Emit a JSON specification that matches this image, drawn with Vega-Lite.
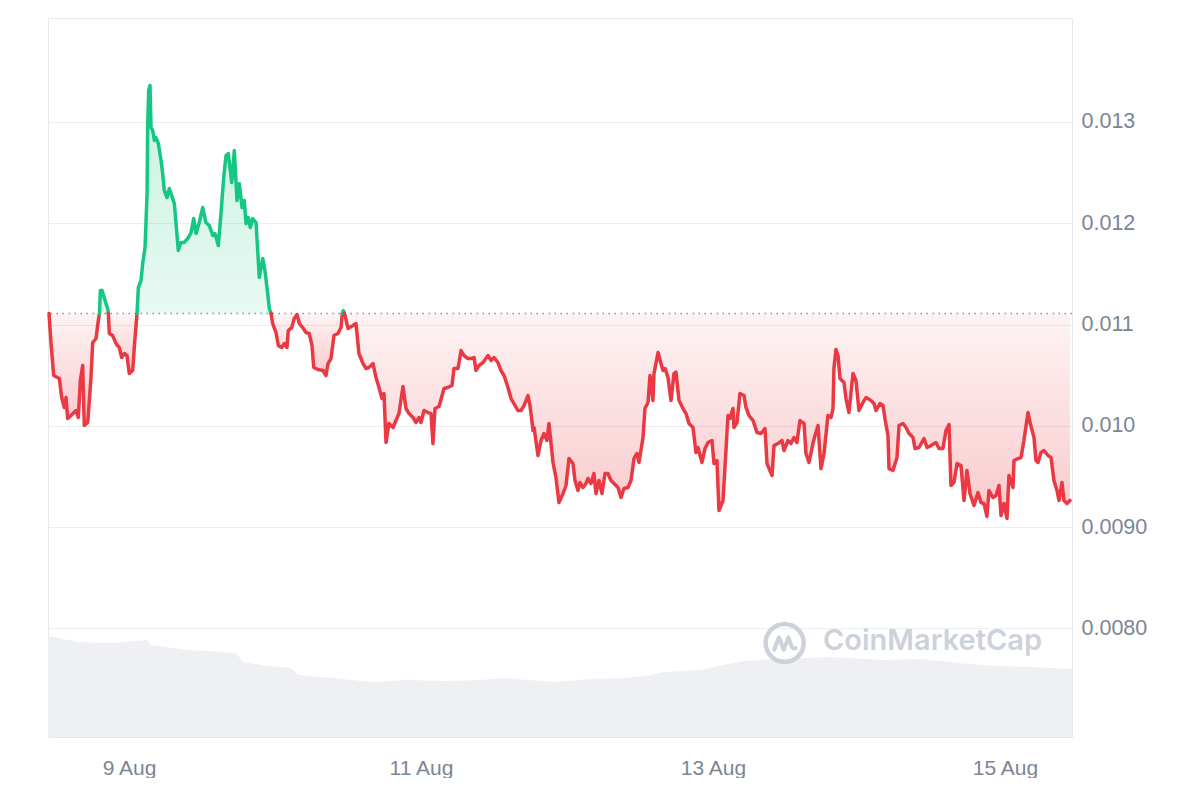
{
  "$schema": "https://vega.github.io/schema/vega-lite/v6.json",
  "width": 1024,
  "height": 719,
  "padding": {"left": 47, "top": 18, "right": 0, "bottom": 0},
  "background": "white",
  "config": {
    "view": {"stroke": "#e6e8eb", "strokeWidth": 1},
    "font": "Liberation Sans"
  },
  "datasets": {
    "volume": [
      {"t": "2024-08-08T10:41", "v": 101},
      {"t": "2024-08-08T15:37", "v": 95},
      {"t": "2024-08-08T21:32", "v": 94},
      {"t": "2024-08-09T02:58", "v": 97},
      {"t": "2024-08-09T03:37", "v": 92},
      {"t": "2024-08-09T09:42", "v": 87},
      {"t": "2024-08-09T15:37", "v": 85},
      {"t": "2024-08-09T17:35", "v": 84},
      {"t": "2024-08-09T18:44", "v": 75},
      {"t": "2024-08-09T21:42", "v": 72},
      {"t": "2024-08-10T02:38", "v": 69},
      {"t": "2024-08-10T03:47", "v": 62},
      {"t": "2024-08-10T09:42", "v": 59},
      {"t": "2024-08-10T15:47", "v": 55},
      {"t": "2024-08-10T21:52", "v": 57},
      {"t": "2024-08-11T03:57", "v": 56},
      {"t": "2024-08-11T09:52", "v": 57},
      {"t": "2024-08-11T13:29", "v": 59},
      {"t": "2024-08-11T22:02", "v": 55},
      {"t": "2024-08-12T03:57", "v": 58},
      {"t": "2024-08-12T10:02", "v": 59},
      {"t": "2024-08-12T13:39", "v": 62},
      {"t": "2024-08-12T16:07", "v": 65},
      {"t": "2024-08-12T22:02", "v": 67},
      {"t": "2024-08-13T01:39", "v": 72},
      {"t": "2024-08-13T05:16", "v": 76},
      {"t": "2024-08-13T10:11", "v": 78},
      {"t": "2024-08-13T16:07", "v": 79},
      {"t": "2024-08-13T18:35", "v": 80},
      {"t": "2024-08-13T22:12", "v": 79},
      {"t": "2024-08-14T04:16", "v": 77},
      {"t": "2024-08-14T10:21", "v": 78},
      {"t": "2024-08-14T16:17", "v": 74},
      {"t": "2024-08-14T22:21", "v": 71},
      {"t": "2024-08-15T04:26", "v": 70},
      {"t": "2024-08-15T10:41", "v": 68},
      {"t": "2024-08-15T11:01", "v": 68}
    ],
    "wm": [{"t": "2024-08-13T18:05", "p": 0.007787, "label": "CoinMarketCap"}],
    "logo": [{"t": "2024-08-13T11:47", "p": 0.007856}],
    "base": [{"p": 0.01111}],
    "price": [
      {"t": "2024-08-08T10:51", "p": 0.01111, "s": 1, "d": "down"},
      {"t": "2024-08-08T11:11", "p": 0.010812, "s": 1, "d": "down"},
      {"t": "2024-08-08T11:37", "p": 0.010497, "s": 1, "d": "down"},
      {"t": "2024-08-08T12:33", "p": 0.010467, "s": 1, "d": "down"},
      {"t": "2024-08-08T12:56", "p": 0.010279, "s": 1, "d": "down"},
      {"t": "2024-08-08T13:22", "p": 0.010181, "s": 1, "d": "down"},
      {"t": "2024-08-08T13:39", "p": 0.010279, "s": 1, "d": "down"},
      {"t": "2024-08-08T13:55", "p": 0.010072, "s": 1, "d": "down"},
      {"t": "2024-08-08T14:28", "p": 0.010102, "s": 1, "d": "down"},
      {"t": "2024-08-08T15:17", "p": 0.010151, "s": 1, "d": "down"},
      {"t": "2024-08-08T15:40", "p": 0.010082, "s": 1, "d": "down"},
      {"t": "2024-08-08T16:00", "p": 0.010447, "s": 1, "d": "down"},
      {"t": "2024-08-08T16:23", "p": 0.010595, "s": 1, "d": "down"},
      {"t": "2024-08-08T16:39", "p": 0.010003, "s": 1, "d": "down"},
      {"t": "2024-08-08T17:13", "p": 0.010033, "s": 1, "d": "down"},
      {"t": "2024-08-08T17:45", "p": 0.010477, "s": 1, "d": "down"},
      {"t": "2024-08-08T18:02", "p": 0.010822, "s": 1, "d": "down"},
      {"t": "2024-08-08T18:35", "p": 0.010862, "s": 1, "d": "down"},
      {"t": "2024-08-08T18:57", "p": 0.011039, "s": 1, "d": "down"},
      {"t": "2024-08-08T19:09", "p": 0.01111, "s": 1, "d": "down"},
      {"t": "2024-08-08T19:09", "p": 0.01111, "s": 2, "d": "up"},
      {"t": "2024-08-08T19:17", "p": 0.011336, "s": 2, "d": "up"},
      {"t": "2024-08-08T19:34", "p": 0.011336, "s": 2, "d": "up"},
      {"t": "2024-08-08T20:13", "p": 0.011207, "s": 2, "d": "up"},
      {"t": "2024-08-08T20:30", "p": 0.011158, "s": 2, "d": "up"},
      {"t": "2024-08-08T20:36", "p": 0.01111, "s": 2, "d": "up"},
      {"t": "2024-08-08T20:36", "p": 0.01111, "s": 3, "d": "down"},
      {"t": "2024-08-08T20:46", "p": 0.010911, "s": 3, "d": "down"},
      {"t": "2024-08-08T21:19", "p": 0.010891, "s": 3, "d": "down"},
      {"t": "2024-08-08T21:52", "p": 0.010812, "s": 3, "d": "down"},
      {"t": "2024-08-08T22:24", "p": 0.010773, "s": 3, "d": "down"},
      {"t": "2024-08-08T22:48", "p": 0.010674, "s": 3, "d": "down"},
      {"t": "2024-08-08T23:14", "p": 0.010714, "s": 3, "d": "down"},
      {"t": "2024-08-08T23:40", "p": 0.010694, "s": 3, "d": "down"},
      {"t": "2024-08-09T00:03", "p": 0.010516, "s": 3, "d": "down"},
      {"t": "2024-08-09T00:36", "p": 0.010546, "s": 3, "d": "down"},
      {"t": "2024-08-09T00:52", "p": 0.010773, "s": 3, "d": "down"},
      {"t": "2024-08-09T01:19", "p": 0.01111, "s": 3, "d": "down"},
      {"t": "2024-08-09T01:19", "p": 0.01111, "s": 4, "d": "up"},
      {"t": "2024-08-09T01:32", "p": 0.011365, "s": 4, "d": "up"},
      {"t": "2024-08-09T01:58", "p": 0.011434, "s": 4, "d": "up"},
      {"t": "2024-08-09T02:15", "p": 0.011602, "s": 4, "d": "up"},
      {"t": "2024-08-09T02:38", "p": 0.01176, "s": 4, "d": "up"},
      {"t": "2024-08-09T02:58", "p": 0.012293, "s": 4, "d": "up"},
      {"t": "2024-08-09T03:04", "p": 0.012945, "s": 4, "d": "up"},
      {"t": "2024-08-09T03:14", "p": 0.01331, "s": 4, "d": "up"},
      {"t": "2024-08-09T03:27", "p": 0.013359, "s": 4, "d": "up"},
      {"t": "2024-08-09T03:37", "p": 0.012945, "s": 4, "d": "up"},
      {"t": "2024-08-09T03:54", "p": 0.012915, "s": 4, "d": "up"},
      {"t": "2024-08-09T04:10", "p": 0.012816, "s": 4, "d": "up"},
      {"t": "2024-08-09T04:26", "p": 0.012846, "s": 4, "d": "up"},
      {"t": "2024-08-09T04:49", "p": 0.012787, "s": 4, "d": "up"},
      {"t": "2024-08-09T05:16", "p": 0.012619, "s": 4, "d": "up"},
      {"t": "2024-08-09T05:32", "p": 0.012491, "s": 4, "d": "up"},
      {"t": "2024-08-09T05:48", "p": 0.012323, "s": 4, "d": "up"},
      {"t": "2024-08-09T06:15", "p": 0.012254, "s": 4, "d": "up"},
      {"t": "2024-08-09T06:37", "p": 0.012343, "s": 4, "d": "up"},
      {"t": "2024-08-09T07:01", "p": 0.012273, "s": 4, "d": "up"},
      {"t": "2024-08-09T07:27", "p": 0.012195, "s": 4, "d": "up"},
      {"t": "2024-08-09T07:44", "p": 0.011997, "s": 4, "d": "up"},
      {"t": "2024-08-09T08:06", "p": 0.011731, "s": 4, "d": "up"},
      {"t": "2024-08-09T08:33", "p": 0.01181, "s": 4, "d": "up"},
      {"t": "2024-08-09T09:05", "p": 0.01181, "s": 4, "d": "up"},
      {"t": "2024-08-09T09:39", "p": 0.011849, "s": 4, "d": "up"},
      {"t": "2024-08-09T10:12", "p": 0.011908, "s": 4, "d": "up"},
      {"t": "2024-08-09T10:38", "p": 0.012046, "s": 4, "d": "up"},
      {"t": "2024-08-09T11:01", "p": 0.011898, "s": 4, "d": "up"},
      {"t": "2024-08-09T11:33", "p": 0.012007, "s": 4, "d": "up"},
      {"t": "2024-08-09T12:07", "p": 0.012155, "s": 4, "d": "up"},
      {"t": "2024-08-09T12:39", "p": 0.012007, "s": 4, "d": "up"},
      {"t": "2024-08-09T13:12", "p": 0.011977, "s": 4, "d": "up"},
      {"t": "2024-08-09T13:46", "p": 0.011879, "s": 4, "d": "up"},
      {"t": "2024-08-09T14:08", "p": 0.011898, "s": 4, "d": "up"},
      {"t": "2024-08-09T14:41", "p": 0.01178, "s": 4, "d": "up"},
      {"t": "2024-08-09T15:07", "p": 0.012096, "s": 4, "d": "up"},
      {"t": "2024-08-09T15:34", "p": 0.012451, "s": 4, "d": "up"},
      {"t": "2024-08-09T15:57", "p": 0.012668, "s": 4, "d": "up"},
      {"t": "2024-08-09T16:19", "p": 0.012688, "s": 4, "d": "up"},
      {"t": "2024-08-09T16:53", "p": 0.012402, "s": 4, "d": "up"},
      {"t": "2024-08-09T17:19", "p": 0.012718, "s": 4, "d": "up"},
      {"t": "2024-08-09T17:45", "p": 0.012224, "s": 4, "d": "up"},
      {"t": "2024-08-09T18:08", "p": 0.012392, "s": 4, "d": "up"},
      {"t": "2024-08-09T18:35", "p": 0.012155, "s": 4, "d": "up"},
      {"t": "2024-08-09T18:57", "p": 0.012224, "s": 4, "d": "up"},
      {"t": "2024-08-09T19:14", "p": 0.011997, "s": 4, "d": "up"},
      {"t": "2024-08-09T19:37", "p": 0.012056, "s": 4, "d": "up"},
      {"t": "2024-08-09T19:56", "p": 0.011958, "s": 4, "d": "up"},
      {"t": "2024-08-09T20:20", "p": 0.012046, "s": 4, "d": "up"},
      {"t": "2024-08-09T20:53", "p": 0.012007, "s": 4, "d": "up"},
      {"t": "2024-08-09T21:25", "p": 0.011464, "s": 4, "d": "up"},
      {"t": "2024-08-09T21:59", "p": 0.011652, "s": 4, "d": "up"},
      {"t": "2024-08-09T22:21", "p": 0.011533, "s": 4, "d": "up"},
      {"t": "2024-08-09T22:48", "p": 0.011306, "s": 4, "d": "up"},
      {"t": "2024-08-09T23:04", "p": 0.011158, "s": 4, "d": "up"},
      {"t": "2024-08-09T23:21", "p": 0.01111, "s": 4, "d": "up"},
      {"t": "2024-08-09T23:21", "p": 0.01111, "s": 5, "d": "down"},
      {"t": "2024-08-09T23:37", "p": 0.01101, "s": 5, "d": "down"},
      {"t": "2024-08-10T00:10", "p": 0.010921, "s": 5, "d": "down"},
      {"t": "2024-08-10T00:33", "p": 0.010793, "s": 5, "d": "down"},
      {"t": "2024-08-10T01:06", "p": 0.010773, "s": 5, "d": "down"},
      {"t": "2024-08-10T01:32", "p": 0.010812, "s": 5, "d": "down"},
      {"t": "2024-08-10T01:58", "p": 0.010773, "s": 5, "d": "down"},
      {"t": "2024-08-10T02:11", "p": 0.010941, "s": 5, "d": "down"},
      {"t": "2024-08-10T02:45", "p": 0.01097, "s": 5, "d": "down"},
      {"t": "2024-08-10T03:10", "p": 0.011059, "s": 5, "d": "down"},
      {"t": "2024-08-10T03:37", "p": 0.011099, "s": 5, "d": "down"},
      {"t": "2024-08-10T04:00", "p": 0.01101, "s": 5, "d": "down"},
      {"t": "2024-08-10T04:33", "p": 0.01097, "s": 5, "d": "down"},
      {"t": "2024-08-10T05:06", "p": 0.010921, "s": 5, "d": "down"},
      {"t": "2024-08-10T05:38", "p": 0.010911, "s": 5, "d": "down"},
      {"t": "2024-08-10T06:05", "p": 0.010793, "s": 5, "d": "down"},
      {"t": "2024-08-10T06:22", "p": 0.010576, "s": 5, "d": "down"},
      {"t": "2024-08-10T07:04", "p": 0.010556, "s": 5, "d": "down"},
      {"t": "2024-08-10T07:53", "p": 0.010546, "s": 5, "d": "down"},
      {"t": "2024-08-10T08:23", "p": 0.010497, "s": 5, "d": "down"},
      {"t": "2024-08-10T08:43", "p": 0.010615, "s": 5, "d": "down"},
      {"t": "2024-08-10T09:12", "p": 0.010664, "s": 5, "d": "down"},
      {"t": "2024-08-10T09:42", "p": 0.010891, "s": 5, "d": "down"},
      {"t": "2024-08-10T10:21", "p": 0.010911, "s": 5, "d": "down"},
      {"t": "2024-08-10T10:51", "p": 0.01097, "s": 5, "d": "down"},
      {"t": "2024-08-10T11:04", "p": 0.01111, "s": 5, "d": "down"},
      {"t": "2024-08-10T11:04", "p": 0.01111, "s": 6, "d": "up"},
      {"t": "2024-08-10T11:14", "p": 0.011138, "s": 6, "d": "up"},
      {"t": "2024-08-10T11:25", "p": 0.01111, "s": 6, "d": "up"},
      {"t": "2024-08-10T11:25", "p": 0.01111, "s": 7, "d": "down"},
      {"t": "2024-08-10T12:00", "p": 0.010961, "s": 7, "d": "down"},
      {"t": "2024-08-10T12:49", "p": 0.01099, "s": 7, "d": "down"},
      {"t": "2024-08-10T13:19", "p": 0.01101, "s": 7, "d": "down"},
      {"t": "2024-08-10T13:48", "p": 0.010714, "s": 7, "d": "down"},
      {"t": "2024-08-10T14:28", "p": 0.010615, "s": 7, "d": "down"},
      {"t": "2024-08-10T14:58", "p": 0.010566, "s": 7, "d": "down"},
      {"t": "2024-08-10T15:27", "p": 0.010576, "s": 7, "d": "down"},
      {"t": "2024-08-10T16:07", "p": 0.010615, "s": 7, "d": "down"},
      {"t": "2024-08-10T16:36", "p": 0.010477, "s": 7, "d": "down"},
      {"t": "2024-08-10T17:06", "p": 0.010378, "s": 7, "d": "down"},
      {"t": "2024-08-10T17:35", "p": 0.010269, "s": 7, "d": "down"},
      {"t": "2024-08-10T17:55", "p": 0.010319, "s": 7, "d": "down"},
      {"t": "2024-08-10T18:15", "p": 0.009835, "s": 7, "d": "down"},
      {"t": "2024-08-10T18:44", "p": 0.010023, "s": 7, "d": "down"},
      {"t": "2024-08-10T19:24", "p": 0.009983, "s": 7, "d": "down"},
      {"t": "2024-08-10T19:53", "p": 0.010052, "s": 7, "d": "down"},
      {"t": "2024-08-10T20:23", "p": 0.010121, "s": 7, "d": "down"},
      {"t": "2024-08-10T21:02", "p": 0.010388, "s": 7, "d": "down"},
      {"t": "2024-08-10T21:32", "p": 0.010171, "s": 7, "d": "down"},
      {"t": "2024-08-10T22:02", "p": 0.010121, "s": 7, "d": "down"},
      {"t": "2024-08-10T22:41", "p": 0.010082, "s": 7, "d": "down"},
      {"t": "2024-08-10T23:11", "p": 0.010033, "s": 7, "d": "down"},
      {"t": "2024-08-10T23:40", "p": 0.010082, "s": 7, "d": "down"},
      {"t": "2024-08-11T00:00", "p": 0.010033, "s": 7, "d": "down"},
      {"t": "2024-08-11T00:30", "p": 0.010151, "s": 7, "d": "down"},
      {"t": "2024-08-11T01:09", "p": 0.010131, "s": 7, "d": "down"},
      {"t": "2024-08-11T01:39", "p": 0.010121, "s": 7, "d": "down"},
      {"t": "2024-08-11T01:58", "p": 0.009825, "s": 7, "d": "down"},
      {"t": "2024-08-11T02:18", "p": 0.010171, "s": 7, "d": "down"},
      {"t": "2024-08-11T02:58", "p": 0.010191, "s": 7, "d": "down"},
      {"t": "2024-08-11T03:47", "p": 0.010368, "s": 7, "d": "down"},
      {"t": "2024-08-11T04:26", "p": 0.010378, "s": 7, "d": "down"},
      {"t": "2024-08-11T05:06", "p": 0.010398, "s": 7, "d": "down"},
      {"t": "2024-08-11T05:25", "p": 0.010566, "s": 7, "d": "down"},
      {"t": "2024-08-11T06:05", "p": 0.010566, "s": 7, "d": "down"},
      {"t": "2024-08-11T06:35", "p": 0.010743, "s": 7, "d": "down"},
      {"t": "2024-08-11T07:04", "p": 0.010694, "s": 7, "d": "down"},
      {"t": "2024-08-11T07:44", "p": 0.010664, "s": 7, "d": "down"},
      {"t": "2024-08-11T08:13", "p": 0.010664, "s": 7, "d": "down"},
      {"t": "2024-08-11T08:43", "p": 0.010674, "s": 7, "d": "down"},
      {"t": "2024-08-11T09:02", "p": 0.010546, "s": 7, "d": "down"},
      {"t": "2024-08-11T09:32", "p": 0.010595, "s": 7, "d": "down"},
      {"t": "2024-08-11T10:12", "p": 0.010625, "s": 7, "d": "down"},
      {"t": "2024-08-11T11:01", "p": 0.010694, "s": 7, "d": "down"},
      {"t": "2024-08-11T11:30", "p": 0.010645, "s": 7, "d": "down"},
      {"t": "2024-08-11T12:00", "p": 0.010674, "s": 7, "d": "down"},
      {"t": "2024-08-11T12:39", "p": 0.010625, "s": 7, "d": "down"},
      {"t": "2024-08-11T13:09", "p": 0.010546, "s": 7, "d": "down"},
      {"t": "2024-08-11T13:39", "p": 0.010497, "s": 7, "d": "down"},
      {"t": "2024-08-11T14:18", "p": 0.010378, "s": 7, "d": "down"},
      {"t": "2024-08-11T14:48", "p": 0.010269, "s": 7, "d": "down"},
      {"t": "2024-08-11T15:17", "p": 0.01022, "s": 7, "d": "down"},
      {"t": "2024-08-11T15:57", "p": 0.010151, "s": 7, "d": "down"},
      {"t": "2024-08-11T16:26", "p": 0.010151, "s": 7, "d": "down"},
      {"t": "2024-08-11T16:56", "p": 0.0102, "s": 7, "d": "down"},
      {"t": "2024-08-11T17:35", "p": 0.010299, "s": 7, "d": "down"},
      {"t": "2024-08-11T17:55", "p": 0.0102, "s": 7, "d": "down"},
      {"t": "2024-08-11T18:25", "p": 0.009954, "s": 7, "d": "down"},
      {"t": "2024-08-11T18:35", "p": 0.009983, "s": 7, "d": "down"},
      {"t": "2024-08-11T19:14", "p": 0.009707, "s": 7, "d": "down"},
      {"t": "2024-08-11T19:44", "p": 0.009855, "s": 7, "d": "down"},
      {"t": "2024-08-11T20:13", "p": 0.009924, "s": 7, "d": "down"},
      {"t": "2024-08-11T20:43", "p": 0.009855, "s": 7, "d": "down"},
      {"t": "2024-08-11T21:02", "p": 0.010023, "s": 7, "d": "down"},
      {"t": "2024-08-11T21:42", "p": 0.009638, "s": 7, "d": "down"},
      {"t": "2024-08-11T22:11", "p": 0.00949, "s": 7, "d": "down"},
      {"t": "2024-08-11T22:41", "p": 0.009243, "s": 7, "d": "down"},
      {"t": "2024-08-11T23:21", "p": 0.009332, "s": 7, "d": "down"},
      {"t": "2024-08-11T23:50", "p": 0.009411, "s": 7, "d": "down"},
      {"t": "2024-08-12T00:20", "p": 0.009677, "s": 7, "d": "down"},
      {"t": "2024-08-12T00:59", "p": 0.009628, "s": 7, "d": "down"},
      {"t": "2024-08-12T01:19", "p": 0.00946, "s": 7, "d": "down"},
      {"t": "2024-08-12T01:48", "p": 0.009361, "s": 7, "d": "down"},
      {"t": "2024-08-12T02:08", "p": 0.00944, "s": 7, "d": "down"},
      {"t": "2024-08-12T02:38", "p": 0.009391, "s": 7, "d": "down"},
      {"t": "2024-08-12T03:07", "p": 0.00943, "s": 7, "d": "down"},
      {"t": "2024-08-12T03:27", "p": 0.00948, "s": 7, "d": "down"},
      {"t": "2024-08-12T03:57", "p": 0.00943, "s": 7, "d": "down"},
      {"t": "2024-08-12T04:26", "p": 0.009529, "s": 7, "d": "down"},
      {"t": "2024-08-12T04:46", "p": 0.009332, "s": 7, "d": "down"},
      {"t": "2024-08-12T05:16", "p": 0.00946, "s": 7, "d": "down"},
      {"t": "2024-08-12T05:45", "p": 0.009332, "s": 7, "d": "down"},
      {"t": "2024-08-12T06:15", "p": 0.009529, "s": 7, "d": "down"},
      {"t": "2024-08-12T06:44", "p": 0.009529, "s": 7, "d": "down"},
      {"t": "2024-08-12T07:14", "p": 0.00946, "s": 7, "d": "down"},
      {"t": "2024-08-12T07:44", "p": 0.00943, "s": 7, "d": "down"},
      {"t": "2024-08-12T08:23", "p": 0.009391, "s": 7, "d": "down"},
      {"t": "2024-08-12T08:53", "p": 0.009292, "s": 7, "d": "down"},
      {"t": "2024-08-12T09:22", "p": 0.009381, "s": 7, "d": "down"},
      {"t": "2024-08-12T10:02", "p": 0.009391, "s": 7, "d": "down"},
      {"t": "2024-08-12T10:31", "p": 0.00946, "s": 7, "d": "down"},
      {"t": "2024-08-12T11:01", "p": 0.009677, "s": 7, "d": "down"},
      {"t": "2024-08-12T11:30", "p": 0.009727, "s": 7, "d": "down"},
      {"t": "2024-08-12T11:50", "p": 0.009638, "s": 7, "d": "down"},
      {"t": "2024-08-12T12:30", "p": 0.009884, "s": 7, "d": "down"},
      {"t": "2024-08-12T12:49", "p": 0.010171, "s": 7, "d": "down"},
      {"t": "2024-08-12T13:19", "p": 0.01023, "s": 7, "d": "down"},
      {"t": "2024-08-12T13:39", "p": 0.010497, "s": 7, "d": "down"},
      {"t": "2024-08-12T14:08", "p": 0.01025, "s": 7, "d": "down"},
      {"t": "2024-08-12T14:18", "p": 0.010516, "s": 7, "d": "down"},
      {"t": "2024-08-12T14:58", "p": 0.010724, "s": 7, "d": "down"},
      {"t": "2024-08-12T15:27", "p": 0.010615, "s": 7, "d": "down"},
      {"t": "2024-08-12T15:47", "p": 0.010546, "s": 7, "d": "down"},
      {"t": "2024-08-12T16:07", "p": 0.010566, "s": 7, "d": "down"},
      {"t": "2024-08-12T16:36", "p": 0.010477, "s": 7, "d": "down"},
      {"t": "2024-08-12T17:06", "p": 0.01025, "s": 7, "d": "down"},
      {"t": "2024-08-12T17:35", "p": 0.010516, "s": 7, "d": "down"},
      {"t": "2024-08-12T17:55", "p": 0.010531, "s": 7, "d": "down"},
      {"t": "2024-08-12T18:25", "p": 0.01025, "s": 7, "d": "down"},
      {"t": "2024-08-12T19:04", "p": 0.010171, "s": 7, "d": "down"},
      {"t": "2024-08-12T19:34", "p": 0.010121, "s": 7, "d": "down"},
      {"t": "2024-08-12T20:03", "p": 0.010023, "s": 7, "d": "down"},
      {"t": "2024-08-12T20:43", "p": 0.009983, "s": 7, "d": "down"},
      {"t": "2024-08-12T21:12", "p": 0.009736, "s": 7, "d": "down"},
      {"t": "2024-08-12T21:32", "p": 0.009786, "s": 7, "d": "down"},
      {"t": "2024-08-12T22:11", "p": 0.009638, "s": 7, "d": "down"},
      {"t": "2024-08-12T22:41", "p": 0.009776, "s": 7, "d": "down"},
      {"t": "2024-08-12T23:11", "p": 0.009835, "s": 7, "d": "down"},
      {"t": "2024-08-12T23:50", "p": 0.009855, "s": 7, "d": "down"},
      {"t": "2024-08-13T00:10", "p": 0.009628, "s": 7, "d": "down"},
      {"t": "2024-08-13T00:39", "p": 0.009657, "s": 7, "d": "down"},
      {"t": "2024-08-13T00:59", "p": 0.009164, "s": 7, "d": "down"},
      {"t": "2024-08-13T01:39", "p": 0.009263, "s": 7, "d": "down"},
      {"t": "2024-08-13T01:58", "p": 0.009588, "s": 7, "d": "down"},
      {"t": "2024-08-13T02:28", "p": 0.010102, "s": 7, "d": "down"},
      {"t": "2024-08-13T02:48", "p": 0.010072, "s": 7, "d": "down"},
      {"t": "2024-08-13T03:17", "p": 0.010171, "s": 7, "d": "down"},
      {"t": "2024-08-13T03:27", "p": 0.009983, "s": 7, "d": "down"},
      {"t": "2024-08-13T03:57", "p": 0.010033, "s": 7, "d": "down"},
      {"t": "2024-08-13T04:26", "p": 0.010319, "s": 7, "d": "down"},
      {"t": "2024-08-13T05:06", "p": 0.010299, "s": 7, "d": "down"},
      {"t": "2024-08-13T05:25", "p": 0.010181, "s": 7, "d": "down"},
      {"t": "2024-08-13T05:55", "p": 0.010102, "s": 7, "d": "down"},
      {"t": "2024-08-13T06:35", "p": 0.010052, "s": 7, "d": "down"},
      {"t": "2024-08-13T07:14", "p": 0.009934, "s": 7, "d": "down"},
      {"t": "2024-08-13T07:53", "p": 0.009924, "s": 7, "d": "down"},
      {"t": "2024-08-13T08:33", "p": 0.009973, "s": 7, "d": "down"},
      {"t": "2024-08-13T08:53", "p": 0.009628, "s": 7, "d": "down"},
      {"t": "2024-08-13T09:42", "p": 0.009509, "s": 7, "d": "down"},
      {"t": "2024-08-13T10:02", "p": 0.009805, "s": 7, "d": "down"},
      {"t": "2024-08-13T10:41", "p": 0.009825, "s": 7, "d": "down"},
      {"t": "2024-08-13T11:21", "p": 0.009855, "s": 7, "d": "down"},
      {"t": "2024-08-13T11:40", "p": 0.009756, "s": 7, "d": "down"},
      {"t": "2024-08-13T12:20", "p": 0.009855, "s": 7, "d": "down"},
      {"t": "2024-08-13T12:49", "p": 0.009825, "s": 7, "d": "down"},
      {"t": "2024-08-13T13:19", "p": 0.009884, "s": 7, "d": "down"},
      {"t": "2024-08-13T13:48", "p": 0.009835, "s": 7, "d": "down"},
      {"t": "2024-08-13T14:18", "p": 0.010052, "s": 7, "d": "down"},
      {"t": "2024-08-13T14:58", "p": 0.010023, "s": 7, "d": "down"},
      {"t": "2024-08-13T15:17", "p": 0.009727, "s": 7, "d": "down"},
      {"t": "2024-08-13T15:47", "p": 0.009638, "s": 7, "d": "down"},
      {"t": "2024-08-13T16:26", "p": 0.009825, "s": 7, "d": "down"},
      {"t": "2024-08-13T16:46", "p": 0.009904, "s": 7, "d": "down"},
      {"t": "2024-08-13T17:16", "p": 0.010003, "s": 7, "d": "down"},
      {"t": "2024-08-13T17:45", "p": 0.009578, "s": 7, "d": "down"},
      {"t": "2024-08-13T18:15", "p": 0.009727, "s": 7, "d": "down"},
      {"t": "2024-08-13T18:54", "p": 0.010102, "s": 7, "d": "down"},
      {"t": "2024-08-13T19:24", "p": 0.010082, "s": 7, "d": "down"},
      {"t": "2024-08-13T19:44", "p": 0.010171, "s": 7, "d": "down"},
      {"t": "2024-08-13T19:53", "p": 0.010566, "s": 7, "d": "down"},
      {"t": "2024-08-13T20:13", "p": 0.010753, "s": 7, "d": "down"},
      {"t": "2024-08-13T20:33", "p": 0.010694, "s": 7, "d": "down"},
      {"t": "2024-08-13T20:53", "p": 0.010467, "s": 7, "d": "down"},
      {"t": "2024-08-13T21:32", "p": 0.010427, "s": 7, "d": "down"},
      {"t": "2024-08-13T21:52", "p": 0.010269, "s": 7, "d": "down"},
      {"t": "2024-08-13T22:21", "p": 0.010131, "s": 7, "d": "down"},
      {"t": "2024-08-13T23:01", "p": 0.010516, "s": 7, "d": "down"},
      {"t": "2024-08-13T23:30", "p": 0.010447, "s": 7, "d": "down"},
      {"t": "2024-08-14T00:00", "p": 0.010151, "s": 7, "d": "down"},
      {"t": "2024-08-14T00:39", "p": 0.01023, "s": 7, "d": "down"},
      {"t": "2024-08-14T01:09", "p": 0.010279, "s": 7, "d": "down"},
      {"t": "2024-08-14T01:58", "p": 0.01025, "s": 7, "d": "down"},
      {"t": "2024-08-14T02:28", "p": 0.01022, "s": 7, "d": "down"},
      {"t": "2024-08-14T02:48", "p": 0.010151, "s": 7, "d": "down"},
      {"t": "2024-08-14T03:27", "p": 0.01022, "s": 7, "d": "down"},
      {"t": "2024-08-14T03:57", "p": 0.0102, "s": 7, "d": "down"},
      {"t": "2024-08-14T04:16", "p": 0.010072, "s": 7, "d": "down"},
      {"t": "2024-08-14T04:46", "p": 0.009904, "s": 7, "d": "down"},
      {"t": "2024-08-14T04:56", "p": 0.009578, "s": 7, "d": "down"},
      {"t": "2024-08-14T05:35", "p": 0.009559, "s": 7, "d": "down"},
      {"t": "2024-08-14T06:15", "p": 0.009687, "s": 7, "d": "down"},
      {"t": "2024-08-14T06:35", "p": 0.010003, "s": 7, "d": "down"},
      {"t": "2024-08-14T07:14", "p": 0.010023, "s": 7, "d": "down"},
      {"t": "2024-08-14T07:44", "p": 0.009983, "s": 7, "d": "down"},
      {"t": "2024-08-14T08:13", "p": 0.009924, "s": 7, "d": "down"},
      {"t": "2024-08-14T08:53", "p": 0.009884, "s": 7, "d": "down"},
      {"t": "2024-08-14T09:12", "p": 0.009776, "s": 7, "d": "down"},
      {"t": "2024-08-14T09:52", "p": 0.009786, "s": 7, "d": "down"},
      {"t": "2024-08-14T10:41", "p": 0.009875, "s": 7, "d": "down"},
      {"t": "2024-08-14T11:11", "p": 0.009786, "s": 7, "d": "down"},
      {"t": "2024-08-14T11:50", "p": 0.009805, "s": 7, "d": "down"},
      {"t": "2024-08-14T12:39", "p": 0.009835, "s": 7, "d": "down"},
      {"t": "2024-08-14T13:09", "p": 0.009776, "s": 7, "d": "down"},
      {"t": "2024-08-14T13:48", "p": 0.009776, "s": 7, "d": "down"},
      {"t": "2024-08-14T14:18", "p": 0.009954, "s": 7, "d": "down"},
      {"t": "2024-08-14T14:48", "p": 0.010013, "s": 7, "d": "down"},
      {"t": "2024-08-14T15:07", "p": 0.009411, "s": 7, "d": "down"},
      {"t": "2024-08-14T15:37", "p": 0.00944, "s": 7, "d": "down"},
      {"t": "2024-08-14T16:07", "p": 0.009628, "s": 7, "d": "down"},
      {"t": "2024-08-14T16:46", "p": 0.009608, "s": 7, "d": "down"},
      {"t": "2024-08-14T17:16", "p": 0.009263, "s": 7, "d": "down"},
      {"t": "2024-08-14T17:45", "p": 0.009559, "s": 7, "d": "down"},
      {"t": "2024-08-14T18:15", "p": 0.009332, "s": 7, "d": "down"},
      {"t": "2024-08-14T18:54", "p": 0.009213, "s": 7, "d": "down"},
      {"t": "2024-08-14T19:34", "p": 0.009341, "s": 7, "d": "down"},
      {"t": "2024-08-14T20:03", "p": 0.009243, "s": 7, "d": "down"},
      {"t": "2024-08-14T20:33", "p": 0.009233, "s": 7, "d": "down"},
      {"t": "2024-08-14T21:02", "p": 0.009105, "s": 7, "d": "down"},
      {"t": "2024-08-14T21:22", "p": 0.009361, "s": 7, "d": "down"},
      {"t": "2024-08-14T22:02", "p": 0.009292, "s": 7, "d": "down"},
      {"t": "2024-08-14T22:31", "p": 0.009312, "s": 7, "d": "down"},
      {"t": "2024-08-14T23:01", "p": 0.009411, "s": 7, "d": "down"},
      {"t": "2024-08-14T23:21", "p": 0.009114, "s": 7, "d": "down"},
      {"t": "2024-08-14T23:50", "p": 0.009233, "s": 7, "d": "down"},
      {"t": "2024-08-15T00:20", "p": 0.009085, "s": 7, "d": "down"},
      {"t": "2024-08-15T00:39", "p": 0.009509, "s": 7, "d": "down"},
      {"t": "2024-08-15T01:19", "p": 0.009391, "s": 7, "d": "down"},
      {"t": "2024-08-15T01:29", "p": 0.009657, "s": 7, "d": "down"},
      {"t": "2024-08-15T02:08", "p": 0.009677, "s": 7, "d": "down"},
      {"t": "2024-08-15T02:38", "p": 0.009687, "s": 7, "d": "down"},
      {"t": "2024-08-15T03:07", "p": 0.009855, "s": 7, "d": "down"},
      {"t": "2024-08-15T03:47", "p": 0.010131, "s": 7, "d": "down"},
      {"t": "2024-08-15T04:07", "p": 0.010033, "s": 7, "d": "down"},
      {"t": "2024-08-15T04:46", "p": 0.009884, "s": 7, "d": "down"},
      {"t": "2024-08-15T05:06", "p": 0.009657, "s": 7, "d": "down"},
      {"t": "2024-08-15T05:26", "p": 0.009638, "s": 7, "d": "down"},
      {"t": "2024-08-15T05:55", "p": 0.009736, "s": 7, "d": "down"},
      {"t": "2024-08-15T06:25", "p": 0.009756, "s": 7, "d": "down"},
      {"t": "2024-08-15T07:04", "p": 0.009707, "s": 7, "d": "down"},
      {"t": "2024-08-15T07:34", "p": 0.009687, "s": 7, "d": "down"},
      {"t": "2024-08-15T08:03", "p": 0.00946, "s": 7, "d": "down"},
      {"t": "2024-08-15T08:33", "p": 0.009361, "s": 7, "d": "down"},
      {"t": "2024-08-15T08:53", "p": 0.009263, "s": 7, "d": "down"},
      {"t": "2024-08-15T09:22", "p": 0.00944, "s": 7, "d": "down"},
      {"t": "2024-08-15T09:42", "p": 0.009263, "s": 7, "d": "down"},
      {"t": "2024-08-15T10:12", "p": 0.009233, "s": 7, "d": "down"},
      {"t": "2024-08-15T10:41", "p": 0.009263, "s": 7, "d": "down"}
    ]
  },
  "layer": [
    {
      "data": {"name": "volume"},
      "mark": {"type": "area", "color": "#eef0f3", "interpolate": "linear"},
      "encoding": {
        "x": {"field": "t", "type": "temporal", "title": null,
          "scale": {"domain": [{"year": 2024, "month": 8, "date": 8, "hours": 10, "minutes": 41}, {"year": 2024, "month": 8, "date": 15, "hours": 11, "minutes": 1}]},
          "axis": {"values": [{"year": 2024, "month": 8, "date": 9}, {"year": 2024, "month": 8, "date": 11}, {"year": 2024, "month": 8, "date": 13}, {"year": 2024, "month": 8, "date": 15}], "format": "%-d %b", "grid": false, "ticks": false, "domain": false, "labelFontSize": 21, "labelColor": "#7c8595", "labelPadding": 20}},
        "y": {"field": "v", "type": "quantitative", "title": null, "scale": {"domain": [0, 719], "nice": false}, "axis": null}
      }
    },
    {
      "data": {"name": "price"},
      "encoding": {
        "y": {"field": "p", "type": "quantitative", "title": null,
          "scale": {"domain": [0.006928, 0.014026], "nice": false, "zero": false},
          "axis": {"orient": "right", "values": [0.008, 0.009, 0.01, 0.011, 0.012, 0.013],
            "labelExpr": "datum.value < 0.00995 ? format(datum.value, '.4f') : format(datum.value, '.3f')",
            "grid": true, "gridColor": "#eceef1", "gridWidth": 1, "ticks": false, "domain": false,
            "labelFontSize": 21.5, "labelColor": "#7c8595", "labelPadding": 9}}
      },
      "layer": [
        {
          "transform": [{"filter": "datum.d == 'up'"}],
          "mark": {"type": "area", "fill": {"gradient": "linear", "x1": 0, "y1": 0, "x2": 0, "y2": 1, "stops": [{"offset": 0, "color": "rgba(22,199,132,0.24)"}, {"offset": 1, "color": "rgba(22,199,132,0.10)"}]}},
          "encoding": {
            "x": {"field": "t", "type": "temporal", "title": null},
            "y2": {"datum": 0.01111},
            "detail": {"field": "s", "type": "nominal"}
          }
        },
        {
          "transform": [{"filter": "datum.d == 'down'"}],
          "mark": {"type": "area", "fill": {"gradient": "linear", "x1": 0, "y1": 0, "x2": 0, "y2": 1, "stops": [{"offset": 0, "color": "rgba(234,57,67,0.06)"}, {"offset": 1, "color": "rgba(234,57,67,0.27)"}]}},
          "encoding": {
            "x": {"field": "t", "type": "temporal", "title": null},
            "y2": {"datum": 0.01111},
            "detail": {"field": "s", "type": "nominal"}
          }
        },
        {
          "data": {"name": "base"},
          "mark": {"type": "rule", "color": "#8a8f99", "strokeWidth": 1.5, "strokeDash": [1.5, 4.5]},
          "encoding": {}
        },
        {
          "mark": {"type": "line", "strokeWidth": 3.5, "strokeJoin": "round", "strokeCap": "round"},
          "encoding": {
            "x": {"field": "t", "type": "temporal", "title": null},
            "color": {"field": "d", "type": "nominal", "scale": {"domain": ["up", "down"], "range": ["#16c784", "#ea3943"]}, "legend": null},
            "detail": {"field": "s", "type": "nominal"}
          }
        },
        {
          "data": {"name": "wm"},
          "mark": {"type": "text", "align": "left", "baseline": "alphabetic", "font": "Inter", "fontSize": 29, "fontWeight": 600, "color": "#cdd2da"},
          "encoding": {
            "x": {"field": "t", "type": "temporal", "title": null},
            "text": {"field": "label"}
          }
        },
        {
          "data": {"name": "logo"},
          "mark": {"type": "point", "shape": "circle", "size": 1450, "filled": false, "stroke": "#cdd2da", "strokeWidth": 4.5, "opacity": 1},
          "encoding": {
            "x": {"field": "t", "type": "temporal", "title": null}
          }
        },
        {
          "data": {"name": "logo"},
          "mark": {"type": "point", "shape": "M -0.55 0.35 L -0.3 -0.3 L -0.05 0.35 L 0.2 -0.3 L 0.36 0.18 Q 0.44 0.34 0.58 0.26", "size": 1450, "filled": false, "stroke": "#cdd2da", "strokeWidth": 4, "strokeJoin": "round", "strokeCap": "round", "opacity": 1},
          "encoding": {
            "x": {"field": "t", "type": "temporal", "title": null}
          }
        }
      ]
    }
  ],
  "resolve": {"scale": {"y": "independent"}}
}
